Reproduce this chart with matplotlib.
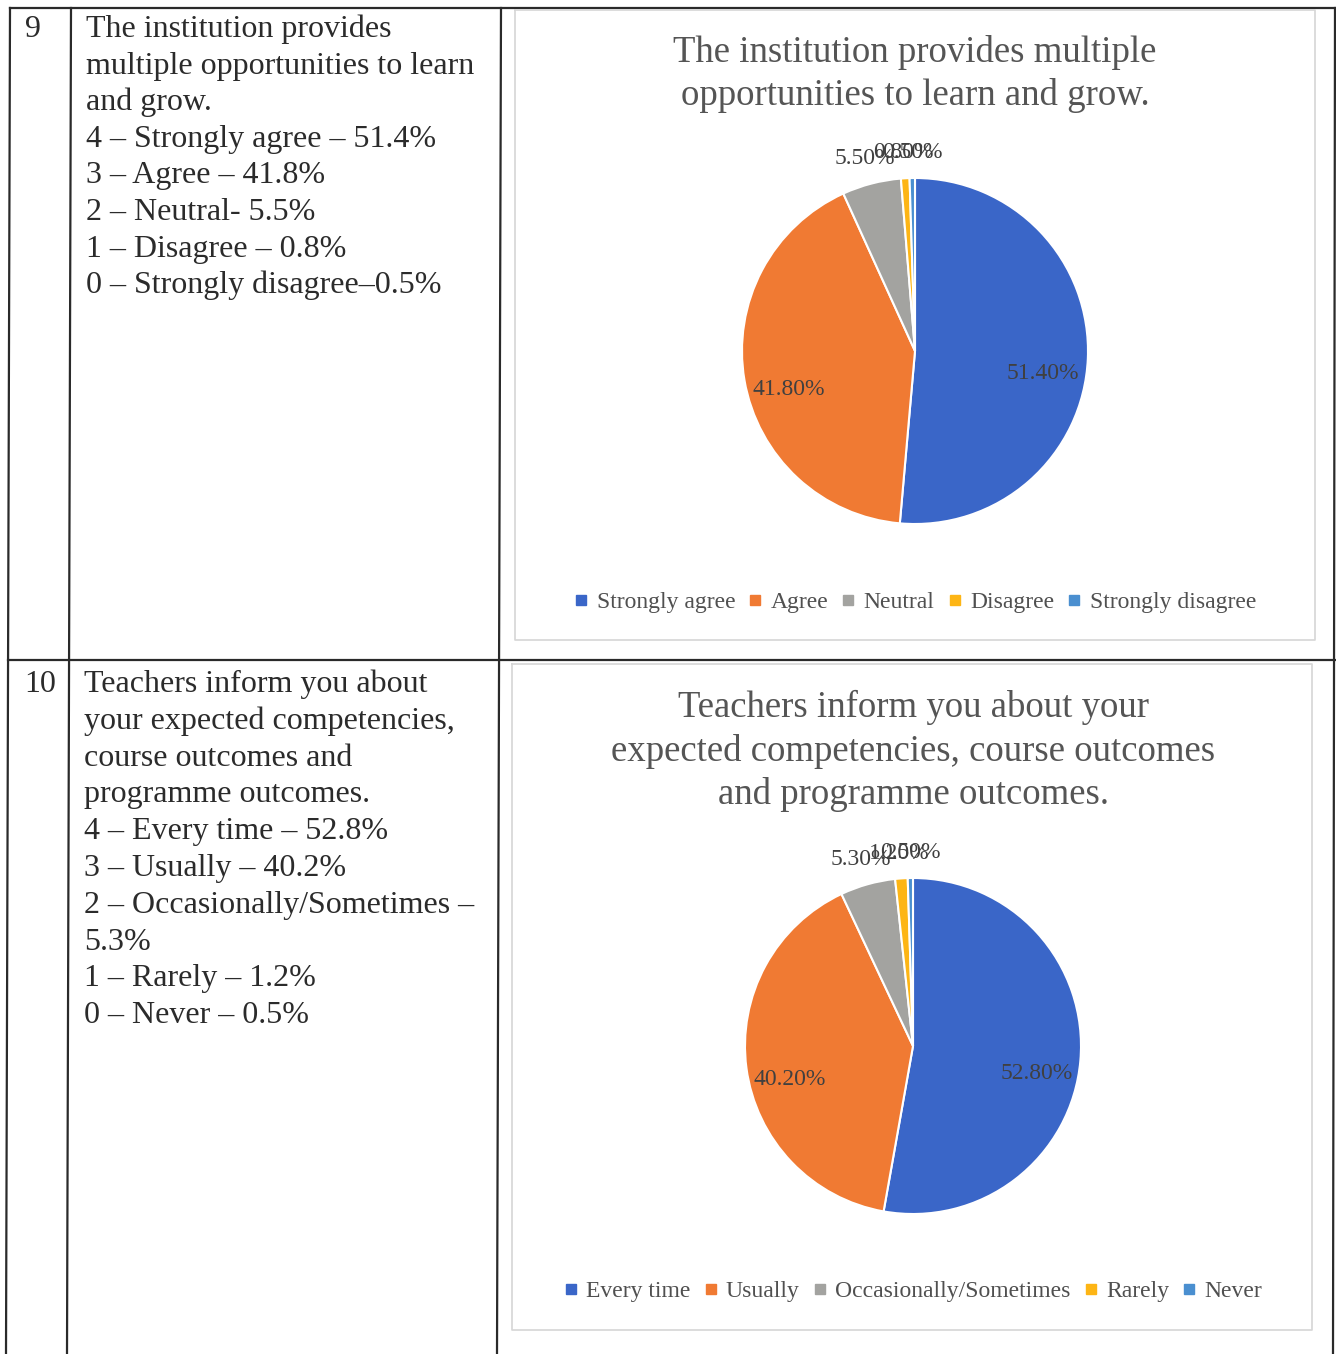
import matplotlib
matplotlib.use('Agg')
from matplotlib import pyplot as plt
from matplotlib.lines import Line2D
import numpy as np

plt.rcParams['font.family'] = ['Liberation Serif', 'DejaVu Serif']

# ---------------- data ----------------
row_numbers = ['9', '10']

q9_lines = ['The institution provides',
            'multiple opportunities to learn',
            'and grow.',
            '4 \u2013 Strongly agree \u2013 51.4%',
            '3 \u2013 Agree \u2013 41.8%',
            '2 \u2013 Neutral- 5.5%',
            '1 \u2013 Disagree \u2013 0.8%',
            '0 \u2013 Strongly disagree\u20130.5%']
q10_lines = ['Teachers inform you about',
             'your expected competencies,',
             'course outcomes and',
             'programme outcomes.',
             '4 \u2013 Every time \u2013 52.8%',
             '3 \u2013 Usually \u2013 40.2%',
             '2 \u2013 Occasionally/Sometimes \u2013',
             '5.3%',
             '1 \u2013 Rarely \u2013 1.2%',
             '0 \u2013 Never \u2013 0.5%']

q9_title = 'The institution provides multiple\nopportunities to learn and grow.'
q9_labels = ['Strongly agree', 'Agree', 'Neutral', 'Disagree', 'Strongly disagree']
q9_values = [51.4, 41.8, 5.5, 0.8, 0.5]

q10_title = 'Teachers inform you about your\nexpected competencies, course outcomes\nand programme outcomes.'
q10_labels = ['Every time', 'Usually', 'Occasionally/Sometimes', 'Rarely', 'Never']
q10_values = [52.8, 40.2, 5.3, 1.2, 0.5]

colors = ['#3a66c8', '#f07a33', '#a3a3a0', '#fdb515', '#4a8fd0']

# ---------------- figure ----------------
W, H = 1336, 1354
fig = plt.figure(figsize=(W / 100, H / 100), dpi=100)
fig.patch.set_facecolor('white')

bg = fig.add_axes([0, 0, 1, 1])
bg.set_xlim(0, W)
bg.set_ylim(H, 0)
bg.axis('off')

lc = '#2a2a2a'
# table grid
bg.plot([10, 1335], [8, 8], color=lc, lw=1.6)
bg.plot([8, 1336], [660, 660], color=lc, lw=1.6)
for x0, x1 in [(10, 6), (71, 67), (501, 497), (1335, 1333)]:
    bg.plot([x0, x1], [8, H], color=lc, lw=1.6)

# chart frames
for (x0, y0, x1, y1) in [(515, 10, 1315, 640), (512, 664, 1312, 1330)]:
    bg.plot([x0, x1, x1, x0, x0], [y0, y0, y1, y1, y0], color='#d6d6d6', lw=1.2)

tc = '#2b2b2b'
bg.text(25, 37, row_numbers[0], fontsize=23, color=tc, va='baseline')
bg.text(24, 692, row_numbers[1], fontsize=23, color=tc, va='baseline')
for i, s in enumerate(q9_lines):
    bg.text(86, 37 + 36.6 * i, s, fontsize=23, color=tc, va='baseline')
for i, s in enumerate(q10_lines):
    bg.text(84, 692 + 36.8 * i, s, fontsize=23, color=tc, va='baseline')


def draw_pie(cx, cy, r, values, labels, title, title_y, legend_y):
    w = r * 2.8
    ax = fig.add_axes([(cx - w / 2) / W, (H - cy - w / 2) / H, w / W, w / H])
    wedges, _ = ax.pie(values, colors=colors, startangle=90, counterclock=False,
                       wedgeprops=dict(edgecolor='white', linewidth=1.5))
    ax.set_xlim(-1.4, 1.4)
    ax.set_ylim(-1.4, 1.4)
    ax.set_aspect('equal')
    for wd, v in zip(wedges, values):
        ang = np.deg2rad((wd.theta1 + wd.theta2) / 2)
        if v > 20:
            x, y = 0.74 * np.cos(ang), 0.74 * np.sin(ang) - 0.1
        else:
            x, y = 1.15 * np.cos(ang), 1.15 * np.sin(ang)
        ax.text(x, y, '%.2f%%' % v, ha='center', va='center', fontsize=17, color='#404040')
    bg.text(cx, title_y, title, ha='center', va='center', fontsize=26.5,
            color='#555555', linespacing=1.33)
    handles = [Line2D([], [], marker='s', ls='', color=c, markersize=7) for c in colors]
    fig.legend(handles, labels, loc='center', bbox_to_anchor=(cx / W, 1 - legend_y / H),
               ncol=5, frameon=False, fontsize=17, handlelength=0.6, handletextpad=0.35,
               columnspacing=0.55, labelcolor='#505050')


draw_pie(915, 351, 173, q9_values, q9_labels, q9_title, 74, 602)
draw_pie(913, 1046, 168, q10_values, q10_labels, q10_title, 751, 1291)

plt.savefig('out.png', dpi=100)
